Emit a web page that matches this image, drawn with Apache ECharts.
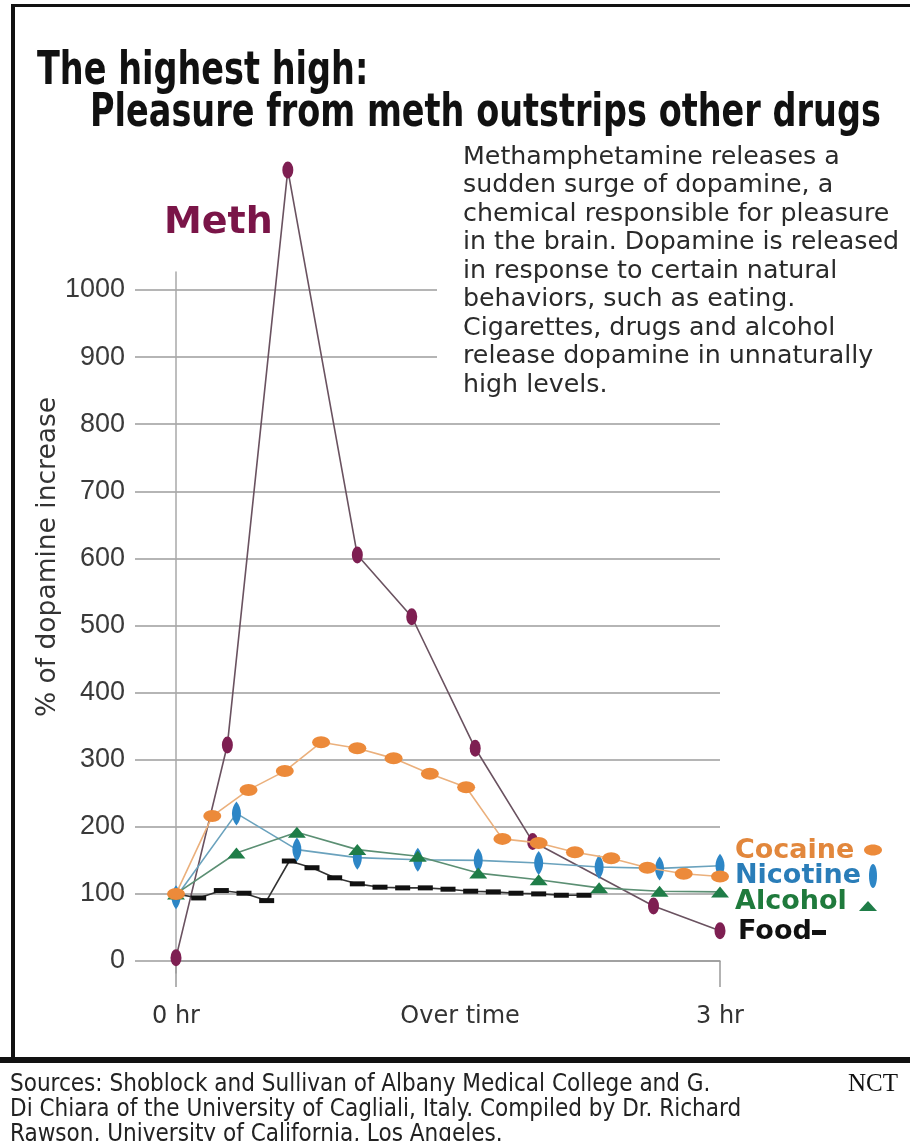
<!DOCTYPE html>
<html>
<head>
<meta charset="utf-8">
<title>The highest high</title>
<script src="https://cdn.jsdelivr.net/npm/echarts@6/dist/echarts.min.js"></script>
<style>
  html, body { margin: 0; padding: 0; background: #ffffff; }
  #chart { width: 910px; height: 1141px; }
</style>
</head>
<body>
<div id="chart"></div>
<script>
// Time is in minutes after use (0 to 3 hours); values are % of dopamine increase.
const methTime = [0, 17, 37, 60, 78, 99, 118, 158, 180];
const methValues = [5, 322, 1179, 605, 513, 317, 178, 82, 45];

const cocaineTime = [0, 12, 24, 36, 48, 60, 72, 84, 96, 108, 120, 132, 144, 156, 168, 180];
const cocaineValues = [100, 216, 255, 283, 326, 317, 302, 279, 259, 182, 176, 162, 153, 139, 130, 126];

const nicotineTime = [0, 20, 40, 60, 80, 100, 120, 140, 160, 180];
const nicotineValues = [95, 220, 166, 154, 151, 150, 146, 140, 138, 142];

const alcoholTime = [0, 20, 40, 60, 80, 100, 120, 140, 160, 180];
const alcoholValues = [100, 161, 192, 166, 156, 131, 121, 109, 104, 103];

const foodTime = [0, 7.5, 15, 22.5, 30, 37.5, 45, 52.5, 60, 67.5, 75, 82.5, 90, 97.5, 105, 112.5, 120, 127.5, 135];
const foodValues = [100, 94, 105, 101, 90, 149, 139, 124, 115, 110, 109, 109, 107, 104, 103, 101, 100, 98, 98];

const yTicks = [0, 100, 200, 300, 400, 500, 600, 700, 800, 900, 1000];
const xLabelValues = [0, 94, 180];
const xLabels = { 0: '0 hr', 94: 'Over time', 180: '3 hr' };

const description = [
  'Methamphetamine releases a',
  'sudden surge of dopamine, a',
  'chemical responsible for pleasure',
  'in the brain. Dopamine is released',
  'in response to certain natural',
  'behaviors, such as eating.',
  'Cigarettes, drugs and alcohol',
  'release dopamine in unnaturally',
  'high levels.'
];
const sources = [
  'Sources: Shoblock and Sullivan of Albany Medical College and G.',
  'Di Chiara of the University of Cagliali, Italy. Compiled by Dr. Richard',
  'Rawson, University of California, Los Angeles.'
];

// Layout: both grids share one vertical scale (px per unit) so data lines up with the gridlines.
const Y_ZERO = 961;
const PX_PER_UNIT = 0.671;
const DATA_Y_MIN = -18;
const DATA_Y_MAX = 1027;
const PLOT_LEFT = 176;
const PLOT_RIGHT = 720;
const GRIDLINE_LEFT = 135;

function pairs(times, values) {
  return times.map((t, i) => [t, values[i]]);
}

const SANS = '"DejaVu Sans", sans-serif';
const ARIAL = '"Liberation Sans", Arial, sans-serif';
const NARROW = '"Liberation Sans Narrow", "DejaVu Sans Condensed", "Liberation Sans", sans-serif';

const chart = echarts.init(document.getElementById('chart'), null, { renderer: 'canvas' });

const option = {
  animation: false,
  backgroundColor: '#ffffff',
  grid: [
    {
      // gridlines and value labels
      left: GRIDLINE_LEFT,
      width: PLOT_RIGHT - GRIDLINE_LEFT,
      top: Y_ZERO - 1000 * PX_PER_UNIT,
      height: 1000 * PX_PER_UNIT,
      outerBoundsMode: 'none'
    },
    {
      // data area with the time axis
      left: PLOT_LEFT,
      width: PLOT_RIGHT - PLOT_LEFT,
      top: Y_ZERO - DATA_Y_MAX * PX_PER_UNIT,
      height: (DATA_Y_MAX - DATA_Y_MIN) * PX_PER_UNIT,
      outerBoundsMode: 'none'
    }
  ],
  xAxis: [
    { gridIndex: 0, type: 'value', min: 0, max: 1, show: false },
    {
      gridIndex: 1,
      type: 'value',
      min: 0,
      max: 180,
      interval: 90,
      axisLine: { show: true, lineStyle: { color: '#9a9a9a', width: 1.5 } },
      axisTick: { show: true, customValues: [0, 180], length: 26, lineStyle: { color: '#9a9a9a', width: 1.5 } },
      splitLine: { show: false },
      axisLabel: {
        customValues: xLabelValues,
        margin: 32,
        color: '#333',
        fontFamily: SANS,
        fontSize: 24,
        formatter: v => xLabels[v] || ''
      }
    }
  ],
  yAxis: [
    {
      gridIndex: 0,
      type: 'value',
      min: 0,
      max: 1000,
      interval: 100,
      axisLine: { show: false },
      axisTick: { show: false },
      axisLabel: {
        customValues: yTicks,
        margin: 10,
        color: '#3a3a3a',
        fontFamily: ARIAL,
        fontSize: 27,
        formatter: v => String(v)
      },
      splitLine: { show: true, lineStyle: { color: '#b5b5b5', width: 2 } }
    },
    {
      gridIndex: 1,
      type: 'value',
      min: DATA_Y_MIN,
      max: DATA_Y_MAX,
      axisLine: { show: true, lineStyle: { color: '#a8a8a8', width: 1.5 } },
      axisTick: { show: false },
      axisLabel: { show: false },
      splitLine: { show: false }
    }
  ],
  series: [
    {
      name: 'Meth',
      type: 'line',
      xAxisIndex: 1, yAxisIndex: 1,
      data: pairs(methTime, methValues),
      clip: false,
      symbol: 'circle',
      symbolSize: [11, 17],
      itemStyle: { color: '#7e1f52' },
      lineStyle: { color: '#6a5260', width: 1.6 },
      z: 2
    },
    {
      name: 'Food',
      type: 'line',
      xAxisIndex: 1, yAxisIndex: 1,
      data: pairs(foodTime, foodValues),
      symbol: 'rect',
      symbolSize: [15, 5],
      itemStyle: { color: '#111111' },
      lineStyle: { color: '#333333', width: 1.6 },
      z: 3
    },
    {
      name: 'Nicotine',
      type: 'line',
      xAxisIndex: 1, yAxisIndex: 1,
      data: pairs(nicotineTime, nicotineValues),
      symbol: 'path://M4,0 C8.5,7 8.5,17 4,24 C-0.5,17 -0.5,7 4,0 Z',
      symbolSize: [9, 24],
      itemStyle: { color: '#2d86c6' },
      lineStyle: { color: '#6aa2bd', width: 1.6 },
      z: 4
    },
    {
      name: 'Alcohol',
      type: 'line',
      xAxisIndex: 1, yAxisIndex: 1,
      data: pairs(alcoholTime, alcoholValues),
      symbol: 'triangle',
      symbolSize: [18, 11],
      itemStyle: { color: '#1f7d48' },
      lineStyle: { color: '#5b8f73', width: 1.6 },
      z: 5
    },
    {
      name: 'Cocaine',
      type: 'line',
      xAxisIndex: 1, yAxisIndex: 1,
      data: pairs(cocaineTime, cocaineValues),
      symbol: 'circle',
      symbolSize: [18, 12],
      itemStyle: { color: '#ec8a3a' },
      lineStyle: { color: '#ebb07c', width: 1.6 },
      z: 6
    }
  ],
  graphic: [
    // frame
    { type: 'rect', z: 10, shape: { x: 11, y: 4, width: 899, height: 3 }, style: { fill: '#111' } },
    { type: 'rect', z: 10, shape: { x: 11, y: 4, width: 4, height: 1056 }, style: { fill: '#111' } },
    { type: 'rect', z: 10, shape: { x: 0, y: 1057, width: 910, height: 6 }, style: { fill: '#111' } },

    // title, set in a condensed bold face
    {
      type: 'text', z: 10, x: 37, y: 49, scaleX: 0.81,
      style: { text: 'The highest high:', fontFamily: NARROW, fontWeight: 'bold', fontSize: 46, fill: '#111' }
    },
    {
      type: 'text', z: 10, x: 90, y: 91, scaleX: 0.81,
      style: { text: 'Pleasure from meth outstrips other drugs', fontFamily: NARROW, fontWeight: 'bold', fontSize: 46, fill: '#111' }
    },

    // explanatory note on a white panel
    { type: 'rect', z: 1, shape: { x: 437, y: 140, width: 473, height: 262 }, style: { fill: '#ffffff' } },
    {
      type: 'text', z: 10, x: 463, y: 143,
      style: { text: description.join('\n'), fontFamily: SANS, fontSize: 25.3, lineHeight: 28.5, fill: '#2a2a2a' }
    },

    // series name at the peak
    {
      type: 'text', z: 10, x: 164, y: 204,
      style: { text: 'Meth', fontFamily: SANS, fontWeight: 'bold', fontSize: 38, fill: '#7a1548' }
    },

    // value axis title
    {
      type: 'text', z: 10, x: 48, y: 557, rotation: Math.PI / 2,
      style: { text: '% of dopamine increase', fontFamily: SANS, fontSize: 26.5, fill: '#333', align: 'center', verticalAlign: 'middle' }
    },

    // key
    {
      type: 'text', z: 10, x: 735, y: 837,
      style: { text: 'Cocaine', fontFamily: SANS, fontWeight: 'bold', fontSize: 27, fill: '#e2873c' }
    },
    { type: 'ellipse', z: 10, shape: { cx: 873, cy: 850, rx: 9, ry: 5.5 }, style: { fill: '#ec8a3a' } },
    {
      type: 'text', z: 10, x: 735, y: 862,
      style: { text: 'Nicotine', fontFamily: SANS, fontWeight: 'bold', fontSize: 27, fill: '#2a7db8' }
    },
    { type: 'ellipse', z: 10, shape: { cx: 873, cy: 876, rx: 4, ry: 12 }, style: { fill: '#2d86c6' } },
    {
      type: 'text', z: 10, x: 735, y: 888,
      style: { text: 'Alcohol', fontFamily: SANS, fontWeight: 'bold', fontSize: 27, fill: '#1f7a3c' }
    },
    { type: 'polygon', z: 10, shape: { points: [[868, 901], [877, 911], [859, 911]] }, style: { fill: '#1f7d48' } },
    {
      type: 'text', z: 10, x: 738, y: 918,
      style: { text: 'Food', fontFamily: SANS, fontWeight: 'bold', fontSize: 27, fill: '#111' }
    },
    { type: 'rect', z: 10, shape: { x: 812, y: 930, width: 14, height: 5 }, style: { fill: '#111' } },

    // sources
    {
      type: 'text', z: 10, x: 10, y: 1072,
      style: { text: sources.join('\n'), fontFamily: NARROW, fontSize: 24, lineHeight: 25, fill: '#222' }
    },
    {
      type: 'text', z: 10, x: 848, y: 1072,
      style: { text: 'NCT', fontFamily: '"Liberation Serif", "DejaVu Serif", serif', fontSize: 25, fill: '#111' }
    }
  ]
};

chart.setOption(option);
</script>
</body>
</html>
